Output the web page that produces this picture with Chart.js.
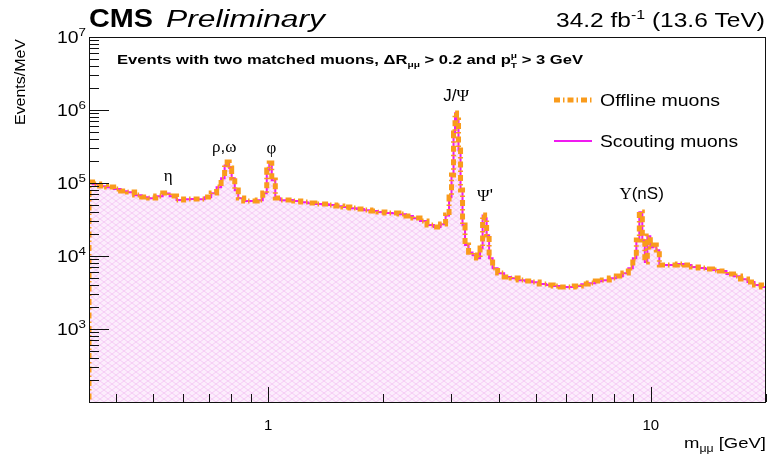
<!DOCTYPE html>
<html>
<head>
<meta charset="utf-8">
<script src="https://cdn.jsdelivr.net/npm/chart.js@4.4.0/dist/chart.umd.min.js"></script>
<style>
  html, body { margin: 0; padding: 0; background: #fff; }
</style>
</head>
<body>
<canvas id="massChart" width="769" height="465"></canvas>
<script>
// dimuon invariant mass (GeV), one entry per histogram bin
const massGeV = [
  0.340, 0.340, 0.355, 0.370, 0.386, 0.403, 0.420, 0.438, 0.457, 0.477, 0.497,
  0.519, 0.541, 0.564, 0.588, 0.614, 0.640, 0.668, 0.697, 0.722, 0.744,
  0.762, 0.776, 0.786, 0.795, 0.810, 0.825, 0.845, 0.881, 0.919, 0.953,
  0.982, 1.000, 1.012, 1.031, 1.056, 1.095, 1.142, 1.191, 1.242, 1.296,
  1.352, 1.410, 1.470, 1.534, 1.600, 1.669, 1.741, 1.816, 1.894, 1.976,
  2.061, 2.150, 2.243, 2.339, 2.440, 2.546, 2.655, 2.770, 2.872, 2.943,
  2.995, 3.031, 3.068, 3.087, 3.124, 3.162, 3.201, 3.239, 3.299, 3.379,
  3.461, 3.545, 3.611, 3.655, 3.700, 3.745, 3.813, 3.905, 4.050, 4.224,
  4.406, 4.596, 4.794, 5.000, 5.216, 5.441, 5.675, 5.920, 6.175, 6.441,
  6.719, 7.009, 7.311, 7.626, 7.955, 8.298, 8.603, 8.864, 9.082, 9.247,
  9.415, 9.587, 9.703, 9.880, 10.06, 10.24, 10.43, 10.62, 11.01, 11.49,
  11.98, 12.50, 13.04, 13.60, 14.19, 14.80, 15.44, 16.10, 16.80, 17.52,
  18.27, 19.06, 19.88
];

// events per MeV, offline-reconstructed muon pairs
const offlineMuons = [
  1, 103000, 96900, 91000, 88200, 82800, 77700, 75300, 68500, 64300, 62300,
  66400, 73000, 66400, 58500, 60400, 60400, 60400, 64300, 73000, 88200,
  117000, 176000, 194000, 161000, 117000, 80200, 62300, 56700, 56700, 58500,
  73000, 151000, 188000, 110000, 62300, 58500, 58500, 56700, 54900, 53200,
  51600, 51600, 49900, 48400, 46900, 45400, 44000, 42700, 41300, 40100,
  38800, 38800, 37600, 35300, 33200, 30200, 26600, 25000, 27400, 36400,
  64300, 129000, 484000, 910000, 730000, 283000, 80200, 26600, 14200, 11300,
  10300, 9390, 12900, 36400, 33200, 19400, 9390, 6850, 5850, 5160,
  4990, 4690, 4540, 4400, 4130, 4010, 3880, 3760, 3760, 3880,
  4130, 4270, 4540, 4690, 4990, 5320, 5850, 6850, 9390, 16600,
  40100, 16600, 8280, 18800, 13300, 14200, 12100, 7530, 7530, 7530,
  7770, 7530, 7070, 6850, 6640, 6430, 6230, 5670, 5320, 4840,
  4400, 4010, 3760
];

// events per MeV, scouting muon pairs
const scoutingMuons = [
  1, 102000, 96000, 90500, 87500, 82500, 77000, 74800, 68000, 64000, 62000,
  66000, 72000, 66000, 58500, 60000, 60500, 60000, 64000, 72500, 87500,
  116000, 174000, 192000, 160000, 116000, 79500, 62000, 56500, 56500, 58000,
  72500, 150000, 186000, 109000, 62000, 58000, 58500, 56500, 54500, 53000,
  51500, 51200, 49800, 48200, 46800, 45200, 43900, 42500, 41200, 40000,
  38700, 38600, 37400, 35200, 33000, 30100, 26500, 24900, 27200, 36000,
  63800, 128000, 480000, 905000, 725000, 281000, 79800, 26400, 14100, 11200,
  10200, 9350, 12800, 36000, 33000, 19200, 9300, 6800, 5820, 5140,
  4970, 4670, 4520, 4380, 4120, 4000, 3870, 3750, 3750, 3870,
  4110, 4250, 4520, 4670, 4970, 5300, 5820, 6800, 9300, 16400,
  39800, 16400, 8250, 18600, 13200, 14100, 12000, 7500, 7500, 7500,
  7740, 7500, 7050, 6830, 6620, 6410, 6210, 5650, 5300, 4820,
  4390, 4000, 3750
];

// resonance annotations: label, mass (GeV), height of label (events/MeV)
const peakLabels = ['η', 'ρ,ω', 'φ', 'J/Ψ', "Ψ'", 'Υ(nS)'];
const peakMass = [0.548, 0.767, 1.019, 3.097, 3.686, 9.46];
const peakLabelAt = [129000, 321000, 310000, 1600000, 68500, 73000];

// axis ticks
const xMajorTicks = [1, 10];
const xTickLabels = ['1', '10'];
const xMinorTicks = [0.4, 0.5, 0.6, 0.7, 0.8, 0.9, 2, 3, 4, 5, 6, 7, 8, 9, 20];
const yDecades = [2, 3, 4, 5, 6, 7];
const yLabelDecades = [3, 4, 5, 6, 7];
const yMinorSteps = [2, 3, 4, 5, 6, 7, 8, 9];

const ORANGE = '#f99b1c';
const MAGENTA = '#f01af0';
const OFFLINE_DASH = [6, 3, 1.5, 3];
const SANS = '"Liberation Sans", Arial, sans-serif';
const SERIF = '"Liberation Serif", "Times New Roman", serif';

const canvas = document.getElementById('massChart');
const ctx = canvas.getContext('2d');

function hatchFill(c) {
  const tile = document.createElement('canvas');
  tile.width = 8; tile.height = 6;
  const g = tile.getContext('2d');
  g.fillStyle = '#fcedfc';
  g.fillRect(0, 0, 8, 6);
  g.strokeStyle = '#f5cbf5';
  g.lineWidth = 1;
  g.beginPath();
  g.moveTo(0, 0); g.lineTo(8, 6);
  g.moveTo(8, 0); g.lineTo(0, 6);
  g.stroke();
  return c.createPattern(tile, 'repeat');
}

// draws a run of text pieces (sub/superscripts), optionally squeezed to a width
function drawRich(c, parts, x, y, align, fitWidth) {
  let w = 0;
  parts.forEach(p => {
    c.font = p.font;
    p.w = p.adv === 0 ? 0 : c.measureText(p.t).width;
    w += p.w;
  });
  const sx = fitWidth ? fitWidth / w : 1;
  const total = w * sx;
  const x0 = align === 'right' ? x - total : align === 'center' ? x - total / 2 : x;
  c.save();
  c.translate(x0, y);
  c.scale(sx, 1);
  c.textAlign = 'left';
  c.textBaseline = 'alphabetic';
  let cx = 0;
  parts.forEach(p => {
    c.font = p.font;
    c.fillText(p.t, cx, p.dy || 0);
    cx += p.w;
  });
  c.restore();
}

function labelParts(text, size) {
  // greek letters in serif, the rest in sans
  const parts = [];
  for (const ch of text) {
    const greek = /[\u0370-\u03ff]/.test(ch);
    parts.push({ t: ch, font: `${size}px ${greek ? SERIF : SANS}` });
  }
  return parts;
}

const rootFrame = {
  id: 'rootFrame',
  afterDraw(chart) {
    const { ctx: c, chartArea: a, scales } = chart;
    const xs = scales.x, ys = scales.y;
    c.save();
    c.fillStyle = '#000';
    c.strokeStyle = '#111';
    c.lineWidth = 1;

    // frame
    c.strokeRect(a.left + 0.5, a.top + 0.5, a.right - a.left - 1, a.bottom - a.top);

    // y ticks, inward
    c.beginPath();
    yDecades.forEach(d => {
      const py = Math.round(ys.getPixelForValue(Math.pow(10, d))) + 0.5;
      c.moveTo(a.left, py); c.lineTo(a.left + 20, py);
      if (d < 7) {
        yMinorSteps.forEach(s => {
          const my = Math.round(ys.getPixelForValue(s * Math.pow(10, d))) + 0.5;
          c.moveTo(a.left, my); c.lineTo(a.left + 10, my);
        });
      }
    });
    // x ticks, inward
    xMajorTicks.forEach(v => {
      const px = Math.round(xs.getPixelForValue(v)) + 0.5;
      c.moveTo(px, a.bottom); c.lineTo(px, a.bottom - 15);
    });
    xMinorTicks.forEach(v => {
      const px = Math.round(xs.getPixelForValue(v)) + 0.5;
      c.moveTo(px, a.bottom); c.lineTo(px, a.bottom - 8);
    });
    c.stroke();

    // y tick labels
    yLabelDecades.forEach(d => {
      const py = ys.getPixelForValue(Math.pow(10, d));
      drawRich(c, [
        { t: '10', font: `16px ${SANS}` },
        { t: String(d), font: `11px ${SANS}`, dy: -7 }
      ], a.left - 3, py + 6, 'right', 29);
    });
    // x tick labels
    xMajorTicks.forEach((v, i) => {
      drawRich(c, [{ t: xTickLabels[i], font: `15px ${SANS}` }],
        xs.getPixelForValue(v), a.bottom + 28, 'center');
    });

    // axis titles
    drawRich(c, [
      { t: 'm', font: `15px ${SANS}` },
      { t: 'μμ', font: `10px ${SANS}`, dy: 4 },
      { t: ' [GeV]', font: `15px ${SANS}` }
    ], a.right, a.bottom + 46, 'right', 82);
    c.save();
    c.translate(25, a.top + 2);
    c.rotate(-Math.PI / 2);
    drawRich(c, [{ t: 'Events/MeV', font: `14px ${SANS}` }], 0, 0, 'right', 86);
    c.restore();

    // header
    drawRich(c, [{ t: 'CMS', font: `bold 26px ${SANS}` }], 89, 27, 'left', 64);
    drawRich(c, [{ t: 'Preliminary', font: `italic 23px ${SANS}` }], 166, 27, 'left', 159);
    drawRich(c, [
      { t: '34.2 fb', font: `20px ${SANS}` },
      { t: '-1', font: `13px ${SANS}`, dy: -8 },
      { t: ' (13.6 TeV)', font: `20px ${SANS}` }
    ], 765, 27, 'right', 209);

    // selection text
    drawRich(c, [
      { t: 'Events with two matched muons, ', font: `bold 13px ${SANS}` },
      { t: 'Δ', font: `bold 13px ${SANS}` },
      { t: 'R', font: `bold 13px ${SANS}` },
      { t: 'μμ', font: `bold 8px ${SANS}`, dy: 3 },
      { t: ' > 0.2 and p', font: `bold 13px ${SANS}` },
      { t: 'μ', font: `bold 8px ${SANS}`, dy: -6, adv: 0 },
      { t: 'T', font: `bold 8px ${SANS}`, dy: 4 },
      { t: ' > 3 GeV', font: `bold 13px ${SANS}` }
    ], 117, 64, 'left', 466);

    // resonance labels
    peakLabels.forEach((txt, i) => {
      const px = xs.getPixelForValue(peakMass[i]);
      const py = ys.getPixelForValue(peakLabelAt[i]);
      drawRich(c, labelParts(txt, 17), px, py + 6, 'center');
    });

    // legend
    const sets = chart.data.datasets;
    const rows = [100, 141];
    sets.forEach((ds, i) => {
      c.save();
      c.strokeStyle = ds.borderColor;
      c.lineWidth = ds.borderWidth;
      c.setLineDash(ds.borderDash || []);
      c.lineCap = 'butt';
      c.beginPath();
      c.moveTo(554, rows[i]); c.lineTo(592, rows[i]);
      c.stroke();
      c.restore();
      drawRich(c, [{ t: ds.label, font: `17px ${SANS}` }], 600, rows[i] + 6, 'left', i === 0 ? 120 : 138);
    });

    c.restore();
  }
};

const toPoints = vals => massGeV.map((m, i) => ({ x: m, y: vals[i] }));

new Chart(ctx, {
  type: 'line',
  data: {
    datasets: [
      {
        label: 'Offline muons',
        data: toPoints(offlineMuons),
        borderColor: ORANGE,
        borderWidth: 5,
        borderDash: OFFLINE_DASH,
        borderCapStyle: 'butt',
        stepped: 'middle',
        pointRadius: 0,
        fill: false,
        order: 0
      },
      {
        label: 'Scouting muons',
        data: toPoints(scoutingMuons),
        borderColor: MAGENTA,
        borderWidth: 2,
        stepped: 'middle',
        pointRadius: 0,
        fill: 'start',
        backgroundColor: hatchFill(ctx),
        order: 1
      }
    ]
  },
  options: {
    responsive: false,
    animation: false,
    layout: { padding: { left: 89, top: 37, right: 3, bottom: 63 } },
    plugins: { legend: { display: false }, tooltip: { enabled: false } },
    scales: {
      x: { type: 'logarithmic', min: 0.34, max: 20, bounds: 'data', display: false },
      y: { type: 'logarithmic', min: 100, max: 1e7, bounds: 'data', display: false }
    }
  },
  plugins: [rootFrame]
});
</script>
</body>
</html>
